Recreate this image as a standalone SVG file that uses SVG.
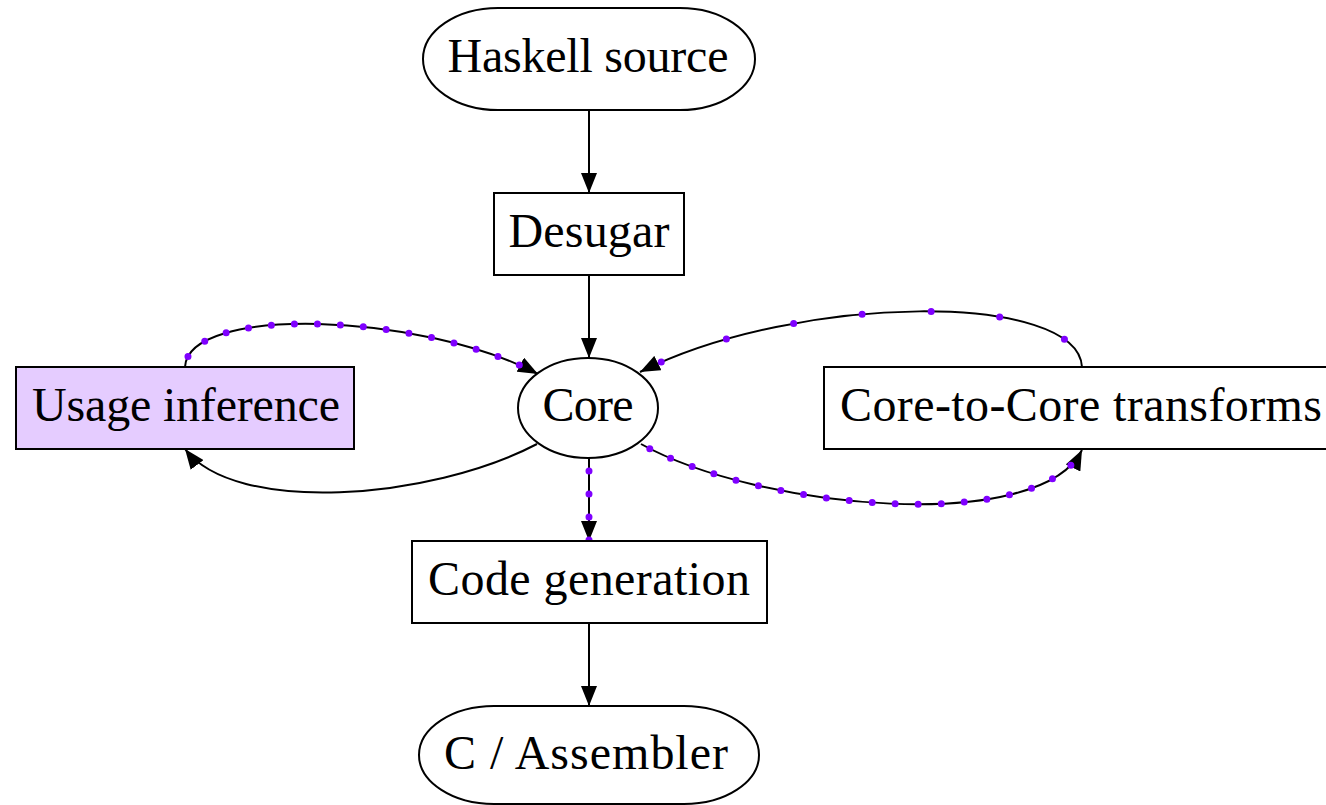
<svg xmlns="http://www.w3.org/2000/svg" width="1326" height="805" viewBox="0 0 1326 805">
<style>
.n{fill:#fff;stroke:#000;stroke-width:2}
.u{fill:#e5ccff;stroke:#000;stroke-width:2}
.t{font-family:"Liberation Serif","Times New Roman",serif;font-size:48px;fill:#000;text-anchor:middle}
.e{fill:none;stroke:#000;stroke-width:2}
.d{fill:none;stroke:#7f00ff;stroke-width:7;stroke-linecap:round;stroke-dasharray:0 23}
.d2{fill:none;stroke:#7f00ff;stroke-width:7;stroke-linecap:round;stroke-dasharray:0 69}
</style>
<defs>
<marker id="ah" markerUnits="userSpaceOnUse" markerWidth="20" markerHeight="16" refX="20" refY="8" orient="auto">
<path d="M0,0 L20,8 L0,16 z" fill="#000"/>
</marker>
</defs>
<rect width="1326" height="805" fill="#fff"/>
<g id="connectors">
<path class="e" d="M589,110 L589,193" marker-end="url(#ah)"/>
<path class="e" d="M589,275 L589,358" marker-end="url(#ah)"/>
<path class="e" d="M589,458 L589,541" marker-end="url(#ah)"/>
<path class="d" d="M589,458 L589,541" stroke-dashoffset="10"/>
<path class="e" d="M589,623 L589,706" marker-end="url(#ah)"/>
<path class="e" d="M185,367 C188,305 420,312 538,374" marker-end="url(#ah)"/>
<path class="d" d="M185,367 C188,305 420,312 538,374" stroke-dashoffset="12"/>
<path class="e" d="M1082,367 C1078,292 800,292 640,372" marker-end="url(#ah)"/>
<path class="d2" d="M1082,367 C1078,292 800,292 640,372" stroke-dashoffset="35"/>
<path class="e" d="M537,444 C430,500 235,515 185,449" marker-end="url(#ah)"/>
<path class="e" d="M641,444 C760,510 1040,535 1082,450" marker-end="url(#ah)"/>
<path class="d" d="M641,444 C760,510 1040,535 1082,450" stroke-dashoffset="13"/>
</g>
<g id="haskell">
<rect class="n" x="423" y="8" width="332" height="102" rx="75" ry="51"/>
<text class="t" x="588" y="72" textLength="281" lengthAdjust="spacing">Haskell source</text>
</g>
<g id="desugar">
<rect class="n" x="494" y="193" width="190" height="82"/>
<text class="t" x="589" y="247" textLength="161" lengthAdjust="spacing">Desugar</text>
</g>
<g id="core">
<ellipse class="n" cx="588" cy="408" rx="70" ry="50"/>
<text class="t" x="588" y="421" textLength="91" lengthAdjust="spacing">Core</text>
</g>
<g id="usage">
<rect class="u" x="16" y="367" width="338" height="82"/>
<text class="t" x="186" y="421" textLength="308" lengthAdjust="spacing">Usage inference</text>
</g>
<g id="c2c">
<rect class="n" x="824" y="367" width="516" height="82"/>
<text class="t" x="1081" y="421" textLength="482" lengthAdjust="spacing">Core-to-Core transforms</text>
</g>
<g id="codegen">
<rect class="n" x="412" y="541" width="355" height="82"/>
<text class="t" x="589" y="595" textLength="322" lengthAdjust="spacing">Code generation</text>
</g>
<g id="asm">
<rect class="n" x="419" y="706" width="340" height="98" rx="75" ry="49"/>
<text class="t" x="586" y="769" textLength="284" lengthAdjust="spacing">C / Assembler</text>
</g>
</svg>
